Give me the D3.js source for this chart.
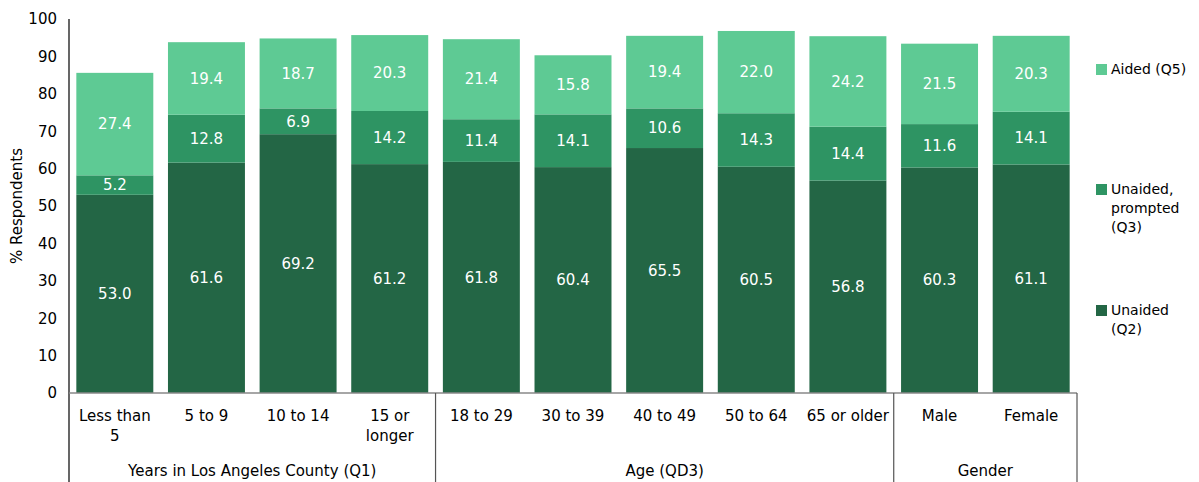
<!DOCTYPE html>
<html><head><meta charset="utf-8">
<script src="https://cdn.jsdelivr.net/npm/d3@7"></script>
<style>body{margin:0;background:#fff;} text{font-family:"DejaVu Sans",sans-serif;}</style>
</head><body><svg id="c" width="1199" height="482"></svg>
<script>
const categories = ["Less than 5","5 to 9","10 to 14","15 or longer","18 to 29","30 to 39","40 to 49","50 to 64","65 or older","Male","Female"];
const catLines = [["Less than","5"],["5 to 9"],["10 to 14"],["15 or","longer"],["18 to 29"],["30 to 39"],["40 to 49"],["50 to 64"],["65 or older"],["Male"],["Female"]];
const unaided = [53.0,61.6,69.2,61.2,61.8,60.4,65.5,60.5,56.8,60.3,61.1];
const prompted = [5.2,12.8,6.9,14.2,11.4,14.1,10.6,14.3,14.4,11.6,14.1];
const aided = [27.4,19.4,18.7,20.3,21.4,15.8,19.4,22.0,24.2,21.5,20.3];
const groups = [{name:"Years in Los Angeles County (Q1)",start:0,end:3},{name:"Age (QD3)",start:4,end:8},{name:"Gender",start:9,end:10}];
const yTicks = [0,10,20,30,40,50,60,70,80,90,100];
const seriesNames = ["Unaided (Q2)","Unaided, prompted (Q3)","Aided (Q5)"];
const colors = ["#236645","#2e9463","#5eca94"];

const svg = d3.select("#c");
const L=69,R=1077,T=19,B=393;
const x = d3.scaleBand().domain(categories).range([L,R]).paddingInner(0.16).paddingOuter(0.08);
const y = d3.scaleLinear().domain([0,100]).range([B,T]);

const rows = categories.map((c,i)=>({cat:c,"Unaided (Q2)":unaided[i],"Unaided, prompted (Q3)":prompted[i],"Aided (Q5)":aided[i]}));
const stack = d3.stack().keys(seriesNames)(rows);

stack.forEach((s,si)=>{
  const g = svg.append("g");
  g.selectAll("rect").data(s).join("rect")
    .attr("x",d=>x(d.data.cat)).attr("width",x.bandwidth())
    .attr("y",d=>y(d[1])).attr("height",d=>y(d[0])-y(d[1]))
    .attr("fill",colors[si]);
  g.selectAll("text").data(s).join("text")
    .attr("x",d=>x(d.data.cat)+x.bandwidth()/2)
    .attr("y",d=>(y(d[0])+y(d[1]))/2)
    .attr("dy","0.35em").attr("text-anchor","middle")
    .attr("fill","#fff").attr("font-size",15)
    .text(d=>(d[1]-d[0]).toFixed(1));
});

// y axis
const ya = svg.append("g").attr("transform",`translate(${L},0)`)
  .call(d3.axisLeft(y).tickValues(yTicks).tickSize(0).tickPadding(12));
ya.select(".domain").remove();
ya.selectAll("text").attr("font-size",15).attr("fill","#000").style("font-family","DejaVu Sans");
svg.append("line").attr("x1",L).attr("x2",L).attr("y1",T).attr("y2",482).attr("stroke","#000").attr("stroke-width",1.2);
svg.append("line").attr("x1",L).attr("x2",R).attr("y1",B).attr("y2",B).attr("stroke","#888").attr("stroke-width",1.5);

svg.append("text").attr("transform",`translate(22,${(T+B)/2}) rotate(-90)`)
  .attr("text-anchor","middle").attr("font-size",15).text("% Respondents");

// category labels
categories.forEach((c,i)=>{
  const t = svg.append("text").attr("x",x(c)+x.bandwidth()/2).attr("y",421)
    .attr("text-anchor","middle").attr("font-size",15);
  catLines[i].forEach((ln,j)=>t.append("tspan").attr("x",x(c)+x.bandwidth()/2).attr("dy",j?20:0).text(ln));
});

// group separators and labels
const step = x.step();
const edge = i => L + i*(R-L)/categories.length;
groups.forEach(gp=>{
  const x0 = edge(gp.start), x1 = edge(gp.end+1);
  svg.append("line").attr("x1",x1).attr("x2",x1).attr("y1",B).attr("y2",482).attr("stroke","#555").attr("stroke-width",1.2);
  svg.append("text").attr("x",(x0+x1)/2).attr("y",476).attr("text-anchor","middle").attr("font-size",15).text(gp.name);
});

// legend
const leg = [{s:2,y:69,lines:["Aided (Q5)"]},{s:1,y:189,lines:["Unaided,","prompted","(Q3)"]},{s:0,y:310,lines:["Unaided","(Q2)"]}];
leg.forEach(l=>{
  svg.append("rect").attr("x",1096).attr("y",l.y-5).attr("width",11).attr("height",11).attr("fill",colors[l.s]);
  const t = svg.append("text").attr("x",1111).attr("y",l.y).attr("dy","0.35em").attr("font-size",14);
  l.lines.forEach((ln,j)=>t.append("tspan").attr("x",1111).attr("dy",j?19:"0.35em").text(ln));
});
</script></body></html>
